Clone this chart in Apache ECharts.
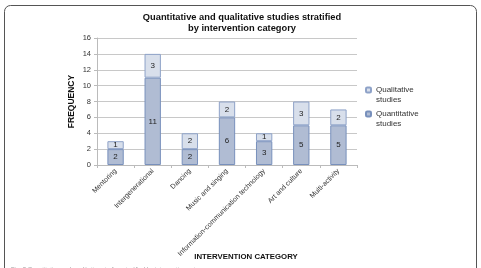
<!DOCTYPE html>
<html><head><meta charset="utf-8">
<script src="https://cdn.jsdelivr.net/npm/echarts@6/dist/echarts.min.js"></script>
<style>html,body{margin:0;padding:0;background:#fff}#c{width:481px;height:268px}</style>
</head><body><div id="c"></div>
<script>
const categories = ["Mentoring","Intergenerational","Dancing","Music and singing","Information-communication technology","Art and culture","Multi-activity"];
const quantitative = [2,11,2,6,3,5,5];
const qualitative = [1,3,2,2,1,3,2];
const yTicks = {min:0, max:16, interval:2};

const chart = echarts.init(document.getElementById('c'), null, {renderer:'canvas'});
const font = 'Liberation Sans, Arial, sans-serif';
chart.setOption({
  animation:false,
  backgroundColor:'#fff',
  graphic:[{type:'rect', shape:{x:4.5,y:5.5,width:472,height:280,r:6}, style:{fill:'none',stroke:'#555',lineWidth:1}}],
  title:[
    {text:'Quantitative and qualitative studies stratified\nby intervention category', left:237, top:7, textAlign:'center',
     textStyle:{fontFamily:font,fontSize:9.3,fontWeight:'bold',color:'#111',lineHeight:11}},
    {text:'Fig. 3 Quantitative and qualitative studies stratified by intervention category', left:6, top:261,
     textStyle:{fontFamily:font,fontSize:6,fontWeight:'normal',color:'#999'}}
  ],
  legend:{orient:'vertical', left:360, top:70, itemWidth:5, itemHeight:5, itemGap:-6,
    data:['Qualitative\nstudies','Quantitative\nstudies'],
    formatter: n => '\n' + n,
    textStyle:{fontFamily:font,fontSize:8,color:'#333',lineHeight:10}},
  grid:{left:97, right:124, top:38, bottom:103},
  xAxis:{type:'category', data:categories,
    name:'INTERVENTION CATEGORY', nameLocation:'middle', nameGap:88, nameMoveOverlap:false,
    nameTextStyle:{fontFamily:font,fontSize:7.8,fontWeight:'bold',color:'#111', padding:[0,0,0,38]},
    axisLine:{lineStyle:{color:'#bbb'}}, axisTick:{show:true,length:3,lineStyle:{color:'#bbb'}},
    axisLabel:{rotate:45, fontFamily:font, fontSize:7, color:'#333', margin:5, interval:0}},
  yAxis:{type:'value', min:yTicks.min, max:yTicks.max, interval:yTicks.interval,
    name:'FREQUENCY', nameLocation:'middle', nameGap:21, nameMoveOverlap:false,
    nameTextStyle:{fontFamily:font,fontSize:8.5,fontWeight:'bold',color:'#111'},
    axisLine:{show:true,lineStyle:{color:'#bbb'}}, axisTick:{show:true,length:3,lineStyle:{color:'#bbb'}},
    splitLine:{lineStyle:{color:'#c8c8c8'}},
    axisLabel:{fontFamily:font,fontSize:7.5,color:'#333',margin:6}},
  series:[
    {name:'Quantitative\nstudies', type:'bar', stack:'s', data:quantitative, barWidth:'44%',
     itemStyle:{color:'#b0bcd3', borderColor:'#7890bc', borderWidth:1},
     label:{show:true, position:'inside', fontFamily:font, fontSize:8, color:'#222'}},
    {name:'Qualitative\nstudies', type:'bar', stack:'s', data:qualitative, barWidth:'44%',
     itemStyle:{color:'#d8dfeb', borderColor:'#8ea2c8', borderWidth:1},
     label:{show:true, position:'inside', fontFamily:font, fontSize:8, color:'#222'}}
  ]
});
</script></body></html>
